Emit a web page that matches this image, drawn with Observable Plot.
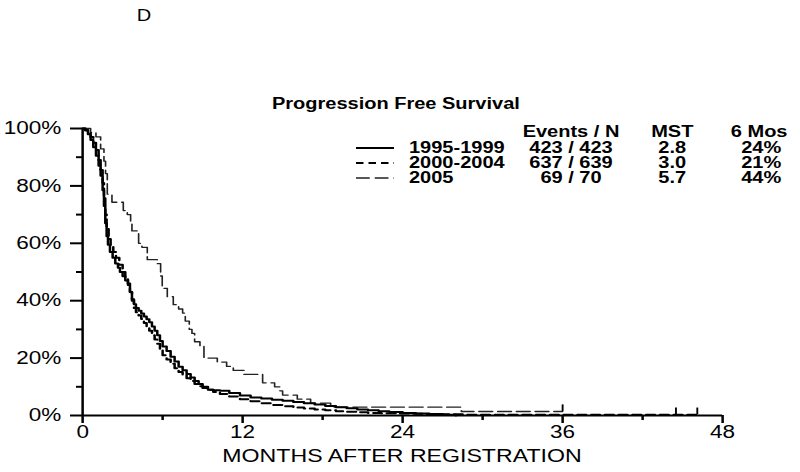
<!DOCTYPE html>
<html>
<head>
<meta charset="utf-8">
<script src="https://cdn.jsdelivr.net/npm/d3@7"></script>
<script src="https://cdn.jsdelivr.net/npm/@observablehq/plot@0.6"></script>
<style>
  html, body { margin: 0; padding: 0; background: #fff; }
  #chart { width: 800px; height: 472px; overflow: hidden; }
</style>
</head>
<body>
<div id="chart"></div>
<script>
// ---- Data ----
const panelLetter = "D";
const chartTitle = "Progression Free Survival";
const xLabel = "MONTHS AFTER REGISTRATION";
const xTicksMajor = [0, 12, 24, 36, 48];
const xTicksMinor = [6, 18, 30, 42];
const yTicksMajor = [0, 20, 40, 60, 80, 100];
const yTicksMinor = [10, 30, 50, 70, 90];

const seriesNames = ["1995-1999", "2000-2004", "2005"];
const eventsN = ["423 / 423", "637 / 639", "69 / 70"];
const mst = ["2.8", "3.0", "5.7"];
const sixMos = ["24%", "21%", "44%"];
const headers = ["Events / N", "MST", "6 Mos"];

// Kaplan-Meier steps: time (months) and survival (%) after each step
const t1995 = [0, 0.2, 0.4, 0.6, 0.8, 1.0, 1.2, 1.35, 1.5, 1.6, 1.7, 1.8, 1.9, 2.05, 2.25, 2.45, 2.65, 2.8, 3.0, 3.2, 3.4, 3.55, 3.7, 3.85, 4.0, 4.2, 4.4, 4.6, 4.8, 5.0, 5.2, 5.4, 5.6, 5.8, 6.0, 6.3, 6.6, 6.9, 7.2, 7.5, 7.8, 8.1, 8.4, 8.7, 9.0, 9.4, 9.8, 10.3, 11.0, 11.8, 12.6, 13.4, 14.2, 15.0, 15.8, 16.6, 17.4, 18.2, 19.0, 19.8, 20.6, 21.4, 22.2, 23.0, 24.0, 25.0, 26.0, 27.0, 28.0];
const s1995 = [100, 99.3, 98, 96, 93.5, 90.5, 87, 83.5, 78.5, 73, 67, 62.5, 59.5, 57, 55, 53, 51.5, 50, 48.5, 47, 45.5, 43, 40.5, 38.8, 37.5, 36.5, 35.5, 34.5, 33.5, 32.5, 31, 29.5, 28, 26, 24, 22.5, 20.5, 18.8, 17, 15.8, 14.5, 13.2, 12, 11, 10, 9.0, 8.8, 8.6, 7.8, 7.0, 6.3, 5.9, 5.5, 5.1, 4.7, 4.3, 3.8, 3.3, 2.9, 2.5, 2.1, 1.8, 1.5, 1.2, 0.9, 0.7, 0.5, 0.3, 0];

const t2000 = [0, 0.2, 0.4, 0.6, 0.8, 1.0, 1.2, 1.35, 1.5, 1.6, 1.7, 1.8, 1.95, 2.1, 2.3, 2.5, 2.75, 3.0, 3.2, 3.4, 3.55, 3.7, 3.85, 4.0, 4.2, 4.4, 4.6, 4.8, 5.0, 5.2, 5.4, 5.6, 5.8, 6.0, 6.3, 6.6, 6.9, 7.2, 7.5, 7.8, 8.1, 8.4, 8.7, 9.0, 9.4, 9.8, 10.3, 11.0, 11.8, 12.6, 13.4, 14.2, 15.0, 15.8, 16.6, 17.4, 18.2, 19.0, 19.8, 20.6, 21.4, 22.4, 23.5, 24.6, 25.8, 27.0, 28.5, 46.1];
const s2000 = [100, 99.5, 98.5, 97, 95, 92.5, 89, 85.5, 81, 76, 70, 65, 61.5, 59, 57, 55, 52.5, 50, 48, 46, 43, 40, 37.5, 36, 34.8, 33.6, 32.2, 30.8, 29.5, 28, 26.5, 25, 23, 21, 19.5, 18, 16.5, 15.2, 14, 13, 12, 11, 10.2, 9.6, 9, 8.2, 7.5, 6.6, 5.7, 5.0, 4.3, 3.7, 3.2, 2.8, 2.4, 2.1, 1.8, 1.5, 1.3, 1.1, 0.9, 0.8, 0.7, 0.6, 0.5, 0.4, 0.3, 0.3];

const t2005 = [0, 0.6, 1.0, 1.35, 1.6, 1.72, 1.85, 2.2, 3.05, 3.35, 3.6, 3.7, 4.2, 4.45, 4.85, 5.6, 5.85, 5.97, 6.35, 6.8, 7.2, 7.5, 7.7, 8.0, 8.2, 8.4, 8.8, 9.1, 10.1, 10.8, 11.3, 12.1, 13.5, 14.4, 14.8, 15.0, 16.1, 17.1, 18.6, 28.4, 36];
const s2005 = [100, 98.6, 97.1, 92.9, 88.6, 84.3, 77.1, 74.3, 71.4, 70.0, 67.1, 64.3, 60.0, 58.6, 54.3, 52.9, 48.6, 44.3, 41.4, 38.6, 37.1, 35.7, 32.9, 30.0, 28.6, 25.7, 24.3, 20.0, 18.6, 17.1, 15.7, 14.3, 11.4, 10.0, 8.6, 7.1, 5.7, 4.3, 2.9, 1.4, 1.4];

// censored observations
const censorSeries = ["2000-2004", "2000-2004", "2005"];
const censorT = [44.5, 46.1, 36];
const censorS = [0.3, 0.3, 1.4];

// ---- Styles ----
const lineStyles = {
  "1995-1999": {stroke: "#000", strokeWidth: 2, strokeDasharray: null},
  "2000-2004": {stroke: "#000", strokeWidth: 2, strokeDasharray: "7,4"},
  "2005": {stroke: "#222", strokeWidth: 1.3, strokeDasharray: "11,4"}
};

const toRows = (name, ts, ss) => ts.map((t, i) => ({series: name, t, s: ss[i]}));
const d1995 = toRows("1995-1999", t1995, s1995);
const d2000 = toRows("2000-2004", t2000, s2000);
const d2005 = toRows("2005", t2005, s2005);
const censors = censorT.map((t, i) => ({series: censorSeries[i], t, s: censorS[i]}));

// The reference is horizontally stretched: draw at 640 wide, display at 800.
const W = 640, H = 472;
const FONT = "'Liberation Sans', Arial, Helvetica, sans-serif";

const plot = Plot.plot({
  width: W,
  height: H,
  marginLeft: 65.6,
  marginRight: 62.4,
  marginTop: 128,
  marginBottom: 57,
  style: {fontFamily: FONT, fontSize: "18px", color: "#000", background: "#fff", overflow: "visible"},
  x: {domain: [0, 48]},
  y: {domain: [0, 100]},
  marks: [
    Plot.axisY({ticks: yTicksMajor, tickSize: 9.6, tickPadding: 7.5, strokeWidth: 2, tickFormat: d => d + "%", label: null, fontSize: 18}),
    Plot.axisY({ticks: yTicksMinor, tickSize: 4.8, strokeWidth: 2, tickFormat: () => "", label: null}),
    Plot.axisX({ticks: xTicksMajor, tickSize: 8, tickPadding: 2, strokeWidth: 2, tickFormat: d => String(d), label: null, fontSize: 18}),
    Plot.axisX({ticks: xTicksMinor, tickSize: 5, strokeWidth: 2, tickFormat: () => "", label: null}),
    Plot.ruleX([0], {strokeWidth: 2}),
    Plot.ruleY([0], {strokeWidth: 2}),
    Plot.line(d2005, {x: "t", y: "s", curve: "step-after", ...lineStyles["2005"]}),
    Plot.line(d2000, {x: "t", y: "s", curve: "step-after", ...lineStyles["2000-2004"]}),
    Plot.line(d1995, {x: "t", y: "s", curve: "step-after", ...lineStyles["1995-1999"]}),
    Plot.ruleX(censors, {x: "t", y1: "s", y2: d => d.s + 2.3, stroke: "#000", strokeWidth: 1.5})
  ]
});

// stretch horizontally like the reference
plot.setAttribute("width", 800);
plot.setAttribute("height", H);
plot.setAttribute("viewBox", `0 0 ${W} ${H}`);
plot.setAttribute("preserveAspectRatio", "none");
plot.style.maxWidth = "none";

const svg = d3.select(plot);
const g = svg.append("g").attr("font-family", FONT).attr("fill", "#000").attr("text-anchor", "start");

const addText = (x, y, txt, anchor, size, bold) =>
  g.append("text").attr("x", x).attr("y", y).attr("text-anchor", anchor)
    .attr("font-size", size).attr("font-weight", bold ? "bold" : "normal").text(txt);

// panel letter
addText(115.2, 21, panelLetter, "middle", 16, false);

// x axis label
addText((65.6 + 577.6) / 2, 462, xLabel, "middle", 18.5, false);

// legend / summary table
addText(217.6, 109, chartTitle, "start", 16, true);

const colX = {label: 327.2, events: 456.8, mst: 537.8, six: 625};
const headerY = 137;
addText(colX.events, headerY, headers[0], "middle", 16, true);
addText(colX.mst, headerY, headers[1], "middle", 16, true);
addText(630, headerY, headers[2], "end", 16, true);

seriesNames.forEach((name, i) => {
  const y = 153.5 + i * 15;
  const st = lineStyles[name];
  g.append("line").attr("x1", 284.8).attr("x2", 315.2).attr("y1", y - 5.5).attr("y2", y - 5.5)
    .attr("stroke", st.stroke).attr("stroke-width", st.strokeWidth)
    .attr("stroke-dasharray", st.strokeDasharray === null ? null : (name === "2005" ? "11,4" : "6,4"));
  addText(colX.label, y, name, "start", 16, true);
  addText(colX.events, y, eventsN[i], "middle", 16, true);
  addText(colX.mst, y, mst[i], "middle", 16, true);
  addText(colX.six, y, sixMos[i], "end", 16, true);
});

document.getElementById("chart").appendChild(plot);
</script>
</body>
</html>
